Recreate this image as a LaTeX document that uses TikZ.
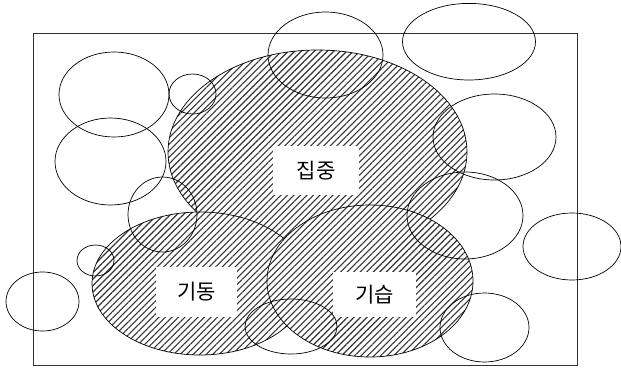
\documentclass[tikz,border=0pt]{standalone}
\usepackage{fontspec}
\newfontfamily\kr{Noto Sans CJK KR}
\usetikzlibrary{patterns.meta}
\begin{document}
\begin{tikzpicture}[x=1pt,y=-1pt,
  frame/.style={draw=black!80, line width=0.8pt},
  hatched/.style={draw=black, line width=0.7pt, preaction={fill=white},
    pattern={Lines[angle=45,distance=4.6pt,line width=1.1pt]}, pattern color=black!80},
  plain/.style={draw=black, line width=0.7pt},
  lbl/.style={fill=white, font=\kr\fontsize{21}{25}\selectfont, inner sep=0pt}]
\useasboundingbox (0,0) rectangle (621,372);
% frame
\draw[frame] (33,33) rectangle (577,365);
% hatched sets
\draw[hatched] (317.5,152) ellipse [x radius=149.5pt, y radius=102pt];
\draw[hatched] (200,283.5) ellipse [x radius=108pt, y radius=71.5pt];
\draw[hatched] (370,281) ellipse [x radius=103pt, y radius=76pt];
% label boxes
\node[lbl, minimum width=86pt, minimum height=49pt] (jj) at (316,170.5) {집중};
\node[lbl, minimum width=81pt, minimum height=50pt] (gd) at (196.5,292) {기동};
\node[lbl, minimum width=83pt, minimum height=45pt] (gs) at (374.5,294.5) {기습};
% plain ellipses
\draw[plain] (114,94.5) ellipse [x radius=55pt, y radius=42.5pt];
\draw[plain] (192.5,94) ellipse [x radius=23.5pt, y radius=20pt];
\draw[plain] (110.5,161.5) ellipse [x radius=55.5pt, y radius=43.5pt];
\draw[plain] (325.5,55) ellipse [x radius=57.5pt, y radius=43pt];
\draw[plain] (469,41.7) ellipse [x radius=66.5pt, y radius=38.3pt];
\draw[plain] (494.5,137) ellipse [x radius=61.5pt, y radius=43pt];
\draw[plain] (465,215.5) ellipse [x radius=58pt, y radius=43.5pt];
\draw[plain] (572,246.5) ellipse [x radius=49pt, y radius=33.5pt];
\draw[plain] (484.5,327.5) ellipse [x radius=44.5pt, y radius=34.5pt];
\draw[plain] (95.5,260.5) ellipse [x radius=18.5pt, y radius=15.5pt];
\draw[plain] (42.5,301.5) ellipse [x radius=36.5pt, y radius=29.5pt];
\draw[plain] (162.5,214.5) ellipse [x radius=34.5pt, y radius=37.5pt];
\draw[plain] (291,326.5) ellipse [x radius=46pt, y radius=27.5pt];
\end{tikzpicture}
\end{document}
